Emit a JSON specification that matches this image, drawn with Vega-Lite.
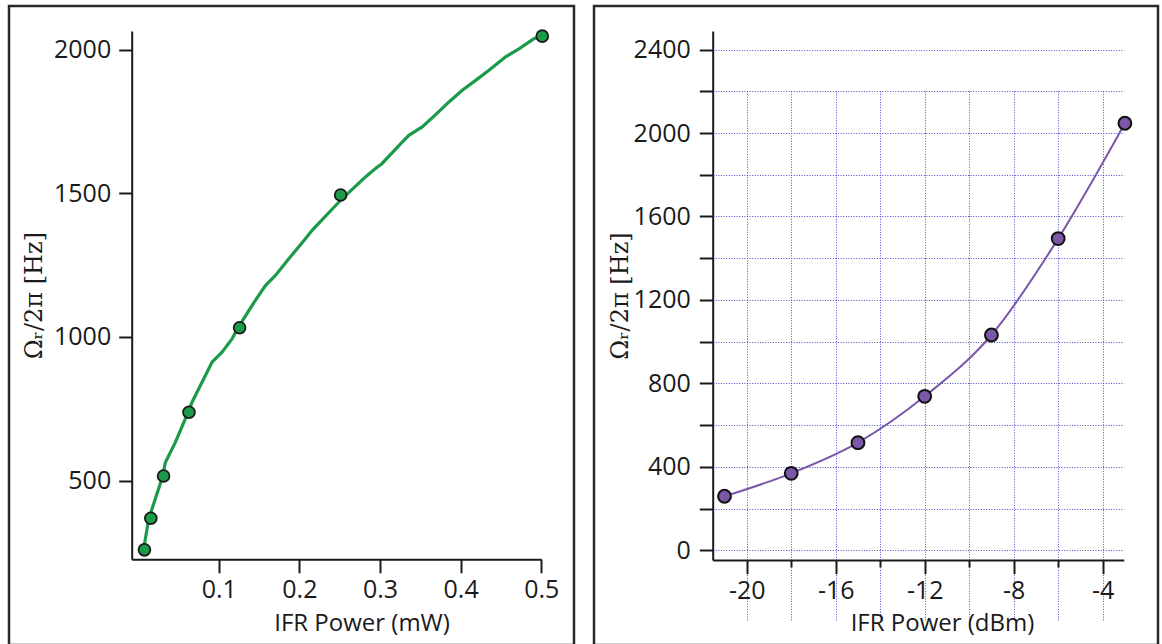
{
  "$schema": "https://vega.github.io/schema/vega-lite/v6.json",
  "padding": {"left": 7, "top": 4, "right": 0, "bottom": 0},
  "autosize": {"type": "pad"},
  "spacing": 16,
  "background": "white",
  "config": {
    "view": {"stroke": "#2a2a2a", "strokeWidth": 2.5},
    "font": "Open Sans",
    "axis": {
      "domainColor": "#1a1a1a", "domainWidth": 2,
      "tickColor": "#1a1a1a", "tickWidth": 2,
      "labelFont": "Open Sans", "labelFontSize": 25, "labelColor": "#1a1a1a",
      "titleFont": "Open Sans", "titleFontSize": 24, "titleFontWeight": "normal", "titleColor": "#1a1a1a",
      "grid": false, "labelFlush": false, "labelOverlap": false
    }
  },
  "datasets": {
    "mw": [
      {"P": 0.0079, "Omega": 259},
      {"P": 0.0158, "Omega": 369},
      {"P": 0.0316, "Omega": 516},
      {"P": 0.0631, "Omega": 738},
      {"P": 0.1259, "Omega": 1032},
      {"P": 0.2512, "Omega": 1494},
      {"P": 0.5012, "Omega": 2047}
    ],
    "fit": [
      {"P": 0.0069, "Omega": 262},
      {"P": 0.0132, "Omega": 366},
      {"P": 0.0305, "Omega": 515},
      {"P": 0.0338, "Omega": 563},
      {"P": 0.0462, "Omega": 633},
      {"P": 0.0616, "Omega": 735},
      {"P": 0.0669, "Omega": 773},
      {"P": 0.0917, "Omega": 912},
      {"P": 0.1041, "Omega": 947},
      {"P": 0.1165, "Omega": 993},
      {"P": 0.1231, "Omega": 1028},
      {"P": 0.144, "Omega": 1121},
      {"P": 0.1579, "Omega": 1179},
      {"P": 0.1703, "Omega": 1214},
      {"P": 0.1869, "Omega": 1272},
      {"P": 0.2075, "Omega": 1342},
      {"P": 0.2158, "Omega": 1371},
      {"P": 0.2529, "Omega": 1481},
      {"P": 0.282, "Omega": 1557},
      {"P": 0.2944, "Omega": 1586},
      {"P": 0.3023, "Omega": 1603},
      {"P": 0.3275, "Omega": 1678},
      {"P": 0.3358, "Omega": 1702},
      {"P": 0.3523, "Omega": 1731},
      {"P": 0.369, "Omega": 1774},
      {"P": 0.3855, "Omega": 1818},
      {"P": 0.402, "Omega": 1859},
      {"P": 0.4186, "Omega": 1893},
      {"P": 0.4351, "Omega": 1928},
      {"P": 0.4558, "Omega": 1975},
      {"P": 0.4723, "Omega": 2003},
      {"P": 0.4909, "Omega": 2038},
      {"P": 0.5, "Omega": 2048}
    ],
    "dbm": [
      {"dBm": -21, "Omega": 259},
      {"dBm": -18, "Omega": 369},
      {"dBm": -15, "Omega": 516},
      {"dBm": -12, "Omega": 738},
      {"dBm": -9, "Omega": 1032},
      {"dBm": -6, "Omega": 1494},
      {"dBm": -3, "Omega": 2047}
    ]
  },
  "hconcat": [
    {
      "width": 565,
      "height": 639,
      "layer": [
        {
          "data": {"name": "fit"},
          "mark": {"type": "line", "color": "#1b9a4a", "strokeWidth": 3.2},
          "encoding": {
            "x": {
              "field": "P", "type": "quantitative",
              "scale": {"domain": [-0.0079, 0.5], "range": [122.7, 532.3], "nice": false, "zero": false},
              "axis": {
                "values": [0.1, 0.2, 0.3, 0.4, 0.5], "format": ".1f",
                "offset": -85.7, "tickSize": 13.5, "labelPadding": 5,
                "title": "IFR Power (mW)", "titleX": 352.5, "titleY": 64.4, "titleBaseline": "middle"
              }
            },
            "y": {
              "field": "Omega", "type": "quantitative",
              "scale": {"domain": [226, 2065], "range": [553.3, 25], "nice": false, "zero": false},
              "axis": {
                "values": [500, 1000, 1500, 2000], "format": "d",
                "offset": -122.7, "tickSize": 13, "labelPadding": 8,
                "title": "Ωᵣ/2π [Hz]", "titleFont": "DejaVu Serif", "titleFontSize": 24,
                "titleX": -97.7, "titleBaseline": "middle"
              }
            }
          }
        },
        {
          "data": {"name": "mw"},
          "mark": {"type": "point", "filled": true, "fill": "#1b9a4a", "stroke": "#1a1a1a", "strokeWidth": 1.8, "size": 140, "opacity": 1},
          "encoding": {
            "x": {"field": "P", "type": "quantitative"},
            "y": {"field": "Omega", "type": "quantitative"}
          }
        }
      ]
    },
    {
      "width": 564,
      "height": 639,
      "layer": [
        {
          "data": {"name": "dbm"},
          "mark": {"type": "line", "color": "#7b57a8", "strokeWidth": 2, "interpolate": "monotone"},
          "encoding": {
            "x": {
              "field": "dBm", "type": "quantitative",
              "scale": {"domain": [-21.53, -3.05], "range": [118.7, 529.8], "nice": false, "zero": false},
              "axis": {
                "values": [-20, -18, -16, -14, -12, -10, -8, -6, -4],
                "labelExpr": "datum.value % 4 == 0 ? '' + datum.value : ''",
                "tickSize": {"condition": {"test": "datum.value % 4 == 0", "value": 13.7}, "value": 7},
                "offset": -85, "labelPadding": 5,
                "grid": true, "gridColor": "#4a4ad0", "gridDash": [1, 1.6], "gridWidth": 1, "gridOpacity": 1,
                "title": "IFR Power (dBm)", "titleX": 348, "titleY": 63.7, "titleBaseline": "middle"
              }
            },
            "y": {
              "field": "Omega", "type": "quantitative",
              "scale": {"domain": [-46.5, 2489], "range": [554, 25], "nice": false, "zero": false},
              "axis": {
                "values": [0, 200, 400, 600, 800, 1000, 1200, 1400, 1600, 1800, 2000, 2200, 2400],
                "labelExpr": "datum.value % 400 == 0 ? '' + datum.value : ''",
                "offset": -118.7, "tickSize": 13.4, "labelPadding": 9,
                "grid": true, "gridColor": "#4a4ad0", "gridDash": [1, 1.6], "gridWidth": 1, "gridOpacity": 1,
                "title": "Ωᵣ/2π [Hz]", "titleFont": "DejaVu Serif", "titleFontSize": 24,
                "titleX": -92, "titleBaseline": "middle"
              }
            }
          }
        },
        {
          "data": {"name": "dbm"},
          "mark": {"type": "point", "filled": true, "fill": "#7b57a8", "stroke": "#111111", "strokeWidth": 2, "size": 165, "opacity": 1},
          "encoding": {
            "x": {"field": "dBm", "type": "quantitative"},
            "y": {"field": "Omega", "type": "quantitative"}
          }
        }
      ]
    }
  ]
}
